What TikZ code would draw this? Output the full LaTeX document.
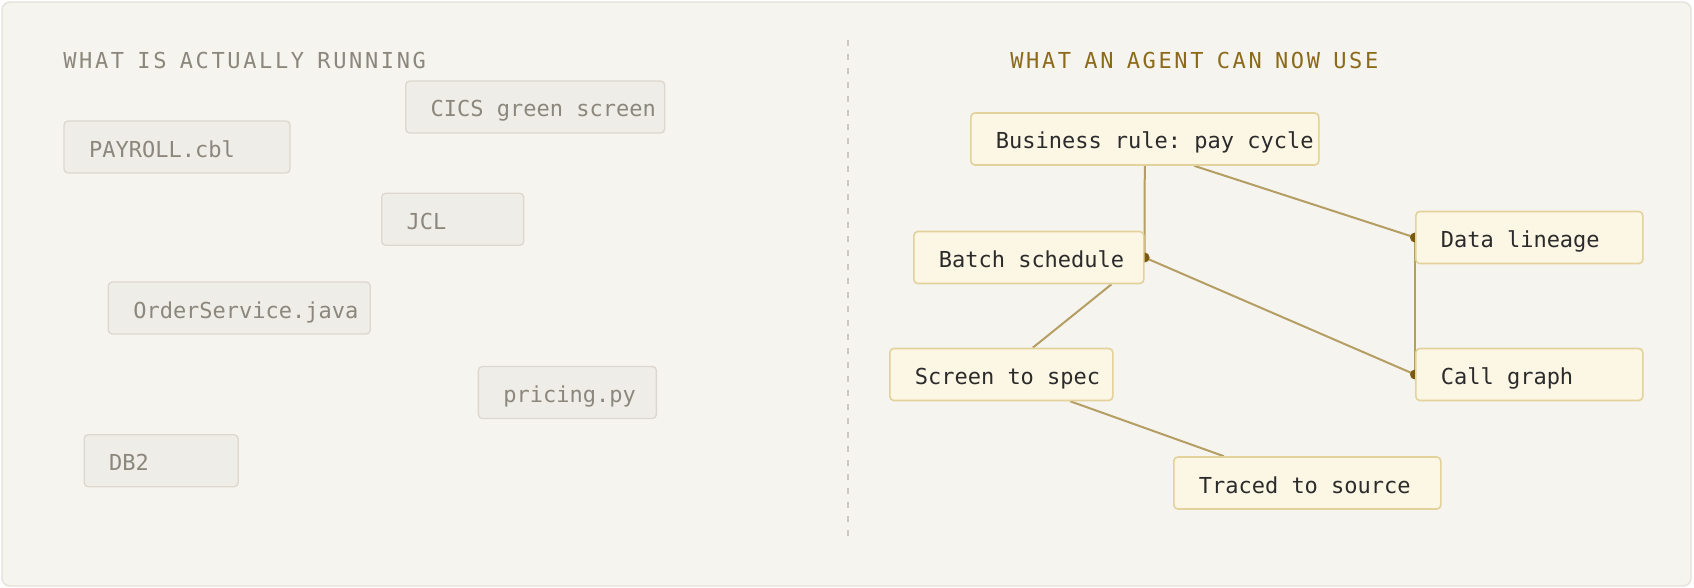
\documentclass[tikz,border=0pt]{standalone}
\usepackage{fontspec}
\setmonofont{DejaVu Sans Mono}[WordSpace={1.9,0,0}]
\newfontfamily\headfont{DejaVu Sans Mono}[LetterSpace=12,WordSpace={1.9,0,0}]
\usepackage{tikz}

\newcommand\widespace{\fontdimen2\font=9.93pt\relax\spaceskip=9.93pt\relax\xspaceskip=9.93pt\relax}

\definecolor{paper}{HTML}{F6F4EF}
\definecolor{framec}{HTML}{E4E1DA}
\definecolor{divc}{HTML}{CDC9C0}
\definecolor{oldfill}{HTML}{EFEDE8}
\definecolor{oldline}{HTML}{DCD8CF}
\definecolor{oldtext}{HTML}{8C877C}
\definecolor{newhead}{HTML}{8B6A1A}
\definecolor{newfill}{HTML}{FCF6E4}
\definecolor{newline}{HTML}{E3D29C}
\definecolor{newtext}{HTML}{2B2B2B}
\definecolor{wirec}{HTML}{B59E63}
\definecolor{knobc}{HTML}{7A5A0C}

\pgfdeclarelayer{back}
\pgfdeclarelayer{wires}
\pgfsetlayers{back,wires,main}

\tikzset{
  srcbox/.style={draw=oldline, fill=oldfill, text=oldtext, rounded corners=3pt, line width=1pt,
    anchor=west, align=left, minimum height=39pt, inner xsep=18.75pt,
    text height=15.5pt, text depth=0.5pt, text width=#1,
    font=\ttfamily\fontsize{16.5}{20}\selectfont,
    execute at begin node=\hbox\bgroup\widespace, execute at end node=\egroup},
  artbox/.style={srcbox=#1, draw=newline, fill=newfill, text=newtext, line width=1.2pt},
  head/.style={anchor=base west, inner sep=0pt,
    font=\headfont\fontsize{16.5}{20}\selectfont,
    execute at begin node=\hbox\bgroup\widespace, execute at end node=\egroup},
  wire/.style={color=wirec, line width=1.5pt},
  knob/.style={fill=knobc}
}

\begin{document}
\begin{tikzpicture}[x=0.75pt,y=-0.75pt]
  \useasboundingbox (0,0) rectangle (1694,588);

  \node[head, text=oldtext] (runhead) at (63,69) {WHAT IS ACTUALLY RUNNING};
  \node[head, text=newhead] (usehead) at (1010,69) {WHAT AN AGENT CAN NOW USE};

  \node[srcbox=156.75pt] (cics) at (405,107) {CICS green screen};
  \node[srcbox=132pt] (payroll) at (63.4,147) {PAYROLL.cbl};
  \node[srcbox=69pt] (jcl) at (381,219.3) {JCL};
  \node[srcbox=159pt] (order) at (107.6,308) {OrderService.java};
  \node[srcbox=96pt] (pricing) at (477.7,392.5) {pricing.py};
  \node[srcbox=78pt] (db) at (83.5,460.7) {DB2};

  \node[artbox=223.5pt] (rule) at (970,139) {Business rule: pay cycle};
  \node[artbox=132.75pt] (lineage) at (1415,237.5) {Data lineage};
  \node[artbox=135pt] (batch) at (913,257.5) {Batch schedule};
  \node[artbox=129.75pt] (spec) at (889,374.5) {Screen to spec};
  \node[artbox=132.75pt] (calls) at (1415,374.5) {Call graph};
  \node[artbox=162.75pt] (traced) at (1173,483) {Traced to source};

  \begin{pgfonlayer}{wires}
    \path[wire]
      (rule) edge (batch.east)
      ([xshift=37pt]rule.south) edge (lineage.west)
      (batch.east) edge (calls.west)
      (lineage.west) edge (calls.west)
      ([xshift=62pt]batch.south) edge ([xshift=23.6pt]spec.north)
      ([xshift=51.75pt]spec.south) edge ([xshift=-62.6pt]traced.north);
    \foreach \p in {batch.east, lineage.west, calls.west}
      \fill[knob] (\p) circle[radius=3.75pt];
  \end{pgfonlayer}

  \begin{pgfonlayer}{back}
    \fill[white] (0,0) rectangle (1694,588);
    \draw[framec, fill=paper, line width=1pt, rounded corners=6pt] (2,2) rectangle (1691,586);
    \draw[divc, line width=1.5pt, dash pattern=on 4.5pt off 6pt] (848,40) -- (848,540);
  \end{pgfonlayer}
\end{tikzpicture}
\end{document}
